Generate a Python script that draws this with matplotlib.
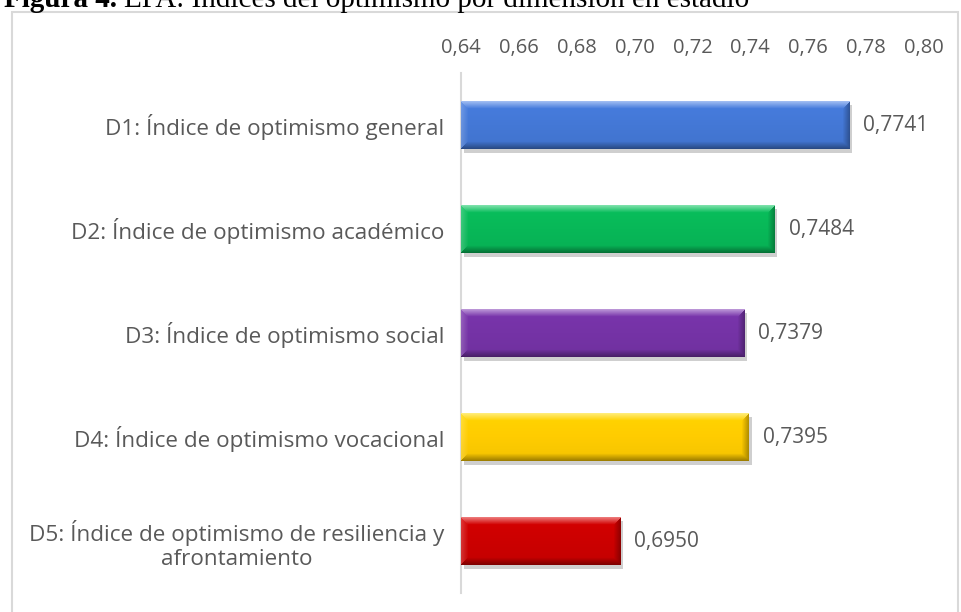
import numpy as np
import matplotlib.pyplot as plt
import matplotlib.patheffects as pe
from matplotlib.colors import to_rgb
from matplotlib.patches import Rectangle

categories = ["D1: Índice de optimismo general",
              "D2: Índice de optimismo académico",
              "D3: Índice de optimismo social",
              "D4: Índice de optimismo vocacional",
              "D5: Índice de optimismo de resiliencia y\nafrontamiento"]
values = [0.7741, 0.7484, 0.7379, 0.7395, 0.6950]
colors = ["#4478D6", "#08B858", "#7533A6", "#FFCC00", "#CC0000"]
ticks = [0.64, 0.66, 0.68, 0.70, 0.72, 0.74, 0.76, 0.78, 0.80]


def bevel_image(color, w, h, b=7):
    # Excel-like bevel: light top/left edge, dark bottom/right edge, fading inward
    base = np.array(to_rgb(color))
    rr, cc = np.mgrid[0:h, 0:w]
    d = np.stack([rr, h - 1 - rr, cc, w - 1 - cc])
    nearest = d.argmin(axis=0)
    fade = np.clip(1 - d.min(axis=0) / b, 0, 1)[..., None]
    target = np.array([[1, 1, 1], [0, 0, 0], [1, 1, 1], [0, 0, 0]], dtype=float)
    amount = np.array([0.45, 0.35, 0.2, 0.3])
    t = target[nearest]
    a = amount[nearest][..., None] * fade
    img = base * (1 - a) + t * a
    # slight top-to-bottom shading of the face
    v = (rr / max(h - 1, 1))[..., None]
    img = img * (1.04 - 0.08 * v)
    return np.clip(img, 0, 1)


fig = plt.figure(figsize=(9.62, 6.12), dpi=100)
ax = fig.add_axes([461 / 962, 1 - 593 / 612, (924 - 461) / 962, (593 - 73) / 612])

# chart area frame
fig.patches.append(Rectangle((12 / 962, -0.02), (958 - 12) / 962, 1 - 12 / 612 + 0.02,
                             transform=fig.transFigure, fill=False,
                             edgecolor="#d9d9d9", linewidth=1.5))

# caption, cut at the top as in the source
t1 = fig.text(4 / 962, 1 - 7 / 612, "Figura 4.", family="Liberation Serif", weight="bold",
              fontsize=21, va="baseline", ha="left")
renderer = fig.canvas.get_renderer()
bb = t1.get_window_extent(renderer)
fig.text((bb.x1 + 7) / 962, 1 - 7 / 612, "EPA: Índices del optimismo por dimensión en estadio",
         family="Liberation Serif", fontsize=21, va="baseline", ha="left")

pos = list(range(len(categories)))
bars = ax.barh(pos, [v - ticks[0] for v in values], left=ticks[0], height=0.46,
               color=colors, edgecolor="none")
for b in bars:
    b.set_path_effects([pe.withSimplePatchShadow(offset=(2, -3), shadow_rgbFace="#888888", alpha=0.4)])

ax.set_ylim(-0.5, len(categories) - 0.5)
ax.invert_yaxis()
ax.set_xlim(ticks[0], ticks[-1])

# fill each bar with the bevel gradient, clipped to the bar
for b, c in zip(bars, colors):
    x0, y0, w, h = b.get_x(), b.get_y(), b.get_width(), b.get_height()
    p0 = ax.transData.transform((x0, y0))
    p1 = ax.transData.transform((x0 + w, y0 + h))
    wpx, hpx = int(abs(p1[0] - p0[0])), int(abs(p1[1] - p0[1]))
    im = ax.imshow(bevel_image(c, wpx, hpx), extent=(x0, x0 + w, y0 + h, y0),
                   origin="upper", aspect="auto", interpolation="bilinear", zorder=3)
    im.set_clip_path(b)

ax.set_xlim(ticks[0], ticks[-1])
ax.set_ylim(len(categories) - 0.5, -0.5)

ax.bar_label(bars, labels=[f"{v:.4f}".replace(".", ",") for v in values], padding=10,
             fontsize=15, color="#595959", family="Open Sans")

ax.set_xticks(ticks)
ax.set_xticklabels([f"{t:.2f}".replace(".", ",") for t in ticks], family="Open Sans",
                   fontsize=14.5, color="#595959")
ax.xaxis.tick_top()
ax.set_yticks(pos)
ax.set_yticklabels(categories, family="Open Sans", fontsize=16.2, color="#595959",
                   multialignment="center")
ax.tick_params(axis="both", length=0)
ax.tick_params(axis="x", pad=11)
ax.tick_params(axis="y", pad=12)

for s in ["top", "right", "bottom"]:
    ax.spines[s].set_visible(False)
ax.spines["left"].set_color("#d9d9d9")
ax.spines["left"].set_linewidth(1.5)

fig.savefig("out.png", dpi=100)
